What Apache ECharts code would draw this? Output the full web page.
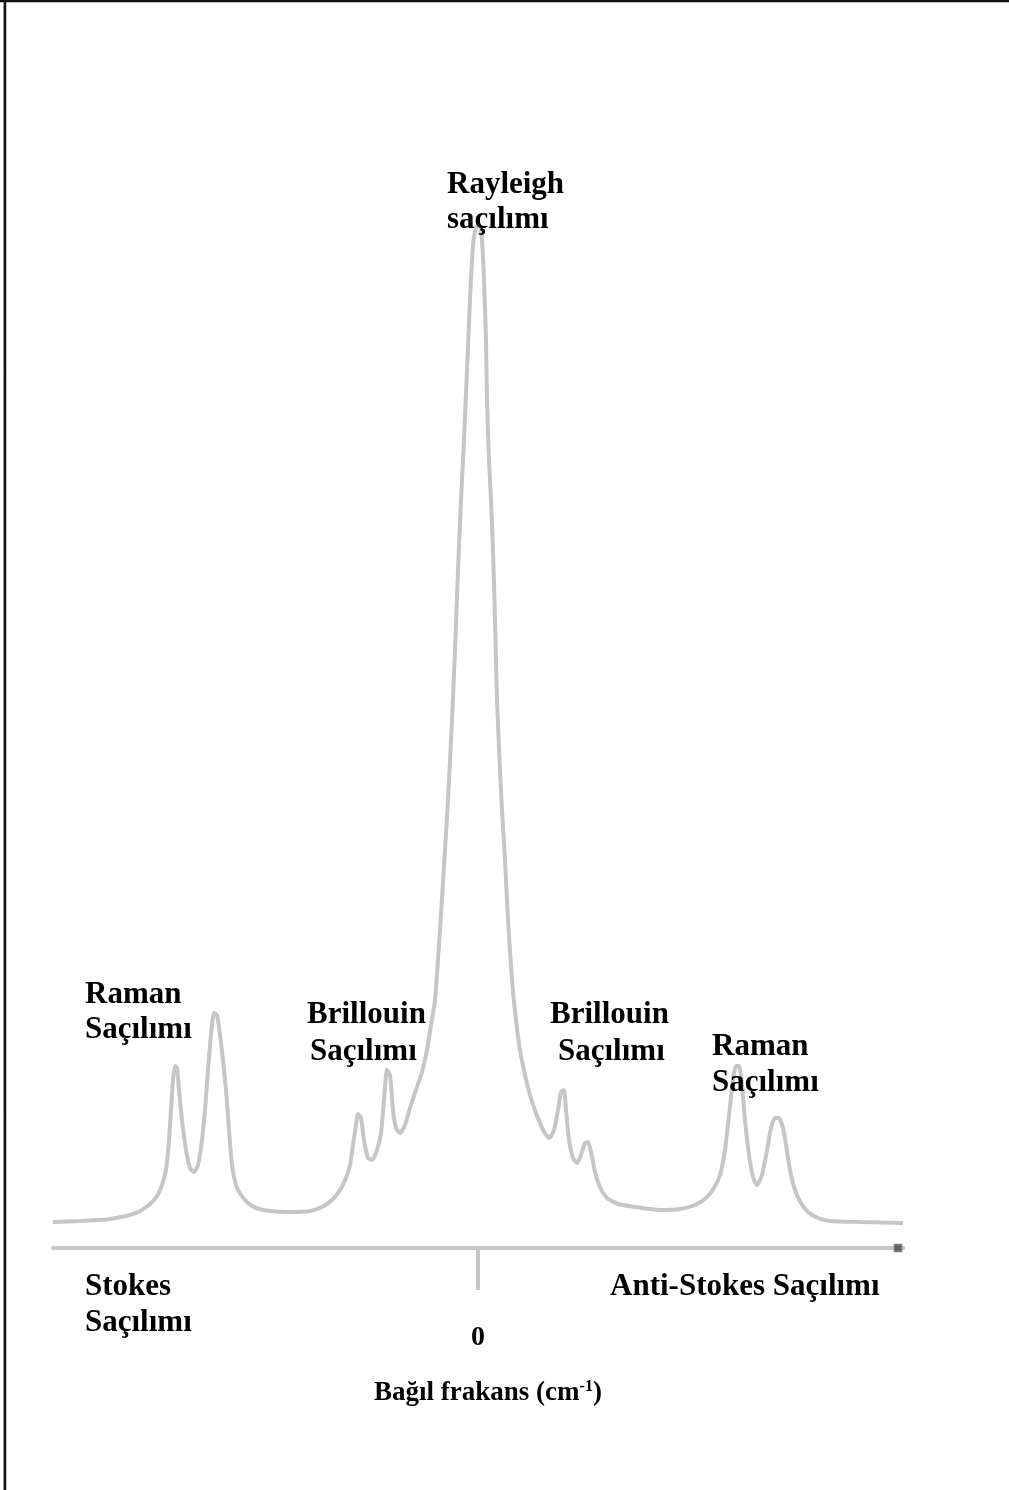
<!DOCTYPE html>
<html>
<head>
<meta charset="utf-8">
<script src="https://cdn.jsdelivr.net/npm/echarts@6/dist/echarts.min.js"></script>
<style>
  html, body { margin: 0; padding: 0; background: #fff; }
  #chart { width: 1009px; height: 1490px; }
</style>
</head>
<body>
<div id="chart"></div>
<script>
// Relative frequency shift (arbitrary units, 0 = Rayleigh line)
const shift = [
  -425, -398, -368, -348, -338, -328, -321, -316, -312, -309, -307, -305, -303, -301, -299, -296,
  -292, -288, -284, -280, -276, -273, -270, -267, -264, -261, -258, -255, -252, -249, -246, -242,
  -237, -230, -222, -208, -188, -168, -156, -146, -138, -132, -128, -125, -122, -120, -117, -114,
  -110, -106, -101, -97, -94, -91, -88, -85, -82, -78, -73, -68, -62, -56, -51, -47,
  -43, -38, -33, -30, -26, -23, -20, -17, -14, -11, -8, -6, -4, -1, 2, 4,
  6, 8, 9, 11, 13, 15, 17, 19, 22, 24, 27, 30, 34, 38, 42, 47,
  52, 58, 65, 71, 76, 80, 83, 86, 88, 91, 95, 99, 103, 107, 110, 113,
  117, 122, 129, 140, 157, 182, 202, 217, 228, 236, 242, 247, 251, 255, 258, 261,
  264, 267, 271, 275, 279, 284, 289, 293, 297, 301, 305, 308, 312, 317, 323, 330,
  340, 352, 382, 425
];

// Scattered intensity (arbitrary units)
const intensity = [
  2.6, 2.7, 2.9, 3.3, 3.7, 4.4, 5.2, 6.3, 7.8, 10.8, 13.8, 16.8, 18.2, 18.0, 15.8, 12.8,
  9.8, 8.0, 7.6, 8.3, 10.8, 13.8, 17.8, 21.3, 23.5, 23.3, 21.3, 18.8, 15.8, 11.8, 8.3, 6.3,
  5.3, 4.5, 4.0, 3.7, 3.6, 3.7, 4.1, 4.8, 5.8, 7.0, 8.3, 10.3, 12.3, 13.4, 13.0, 10.8,
  9.0, 8.8, 9.8, 11.5, 14.8, 17.8, 17.3, 13.8, 12.0, 11.5, 12.3, 14.0, 15.8, 17.6, 19.8, 22.3,
  24.8, 31.8, 39.8, 44.8, 52.8, 59.8, 67.8, 74.8, 80.8, 87.8, 94.8, 98.8, 101.1, 102.2, 102.2, 100.8,
  96.8, 90.8, 84.8, 78.8, 74.8, 69.8, 62.8, 54.8, 47.8, 43.8, 38.8, 32.8, 26.8, 22.8, 19.8, 17.3,
  15.3, 13.5, 11.8, 11.0, 11.8, 13.8, 15.6, 15.8, 13.8, 10.8, 9.0, 8.5, 9.3, 10.5, 10.6, 9.6,
  7.6, 6.1, 5.0, 4.4, 4.1, 3.8, 3.9, 4.3, 5.0, 6.0, 7.3, 9.8, 13.3, 16.8, 18.2, 18.2,
  16.3, 12.8, 9.3, 7.1, 6.3, 7.3, 9.8, 12.0, 13.0, 13.0, 12.0, 10.3, 7.8, 5.8, 4.5, 3.6,
  3.0, 2.7, 2.6, 2.5
];

// Marker at the end of the frequency axis
const axisEnd = [[420, 0]];

// Axis tick labels
const tickValues = [0];
const tickLabels = ['0'];

const SERIF = '"Liberation Serif", "Times New Roman", serif';
const CURVE_GREY = '#c6c6c6';

// Peak annotations: [text, left x, baseline y]
const annotations = [
  ['Rayleigh', 447, 195],
  ['saçılımı', 447, 230],
  ['Raman', 85, 1005],
  ['Saçılımı', 85, 1040],
  ['Brillouin', 307, 1025],
  ['Saçılımı', 310, 1062],
  ['Brillouin', 550, 1025],
  ['Saçılımı', 558, 1062],
  ['Raman', 712, 1057],
  ['Saçılımı', 712, 1093],
  ['Stokes', 85, 1297],
  ['Saçılımı', 85, 1333],
  ['Anti-Stokes Saçılımı', 610, 1297]
];

const LABEL_SIZE = 31;

function textEl(t, x, baseline, size) {
  return {
    type: 'text',
    x: x,
    y: baseline - Math.round(size * 0.33),
    z: 10,
    style: {
      text: t,
      font: 'bold ' + size + 'px ' + SERIF,
      fill: '#000',
      align: 'left',
      verticalAlign: 'middle'
    }
  };
}

const chart = echarts.init(document.getElementById('chart'), null, { renderer: 'canvas' });

chart.setOption({
  backgroundColor: '#fff',
  animation: false,
  grid: { left: 53, right: 106, top: 148, bottom: 242 },
  xAxis: {
    type: 'value',
    min: -425,
    max: 425,
    splitLine: { show: false },
    axisLine: { show: true, lineStyle: { color: CURVE_GREY, width: 4 } },
    axisTick: {
      show: true,
      customValues: tickValues,
      length: 42,
      lineStyle: { color: CURVE_GREY, width: 4 }
    },
    axisLabel: {
      show: true,
      customValues: tickValues,
      formatter: (v) => tickLabels[tickValues.indexOf(v)] ?? '',
      margin: 76,
      color: '#000',
      fontFamily: SERIF,
      fontWeight: 'bold',
      fontSize: 28
    },
    name: '{a|Bağıl frakans (cm}{s|-1}{a|)}',
    nameLocation: 'middle',
    nameGap: 131,
    nameTextStyle: {
      padding: [0, 0, 0, 20],
      rich: {
        a: { fontFamily: SERIF, fontWeight: 'bold', fontSize: 27, color: '#000' },
        s: { fontFamily: SERIF, fontWeight: 'bold', fontSize: 16, color: '#000', verticalAlign: 'top', padding: [0, 0, 12, 0] }
      }
    }
  },
  yAxis: {
    type: 'value',
    min: 0,
    max: 110,
    show: false
  },
  series: [
    {
      type: 'line',
      data: shift.map((x, i) => [x, intensity[i]]),
      symbol: 'none',
      smooth: 0.2,
      lineStyle: { color: CURVE_GREY, width: 4 },
      z: 3
    },
    {
      type: 'scatter',
      data: axisEnd,
      symbol: 'rect',
      symbolSize: 8,
      itemStyle: { color: '#444', borderColor: '#999', borderWidth: 1 },
      z: 4
    }
  ],
  graphic: [
    // frame along the left and top edges
    { type: 'line', shape: { x1: 5, y1: 0, x2: 5, y2: 1490 }, style: { stroke: '#111', lineWidth: 2.5 } },
    { type: 'line', shape: { x1: 3.5, y1: 0, x2: 3.5, y2: 1490 }, style: { stroke: '#999', lineWidth: 1 } },
    { type: 'line', shape: { x1: 0, y1: 1, x2: 1009, y2: 1 }, style: { stroke: '#111', lineWidth: 2.5 } }
  ].concat(annotations.map(a => textEl(a[0], a[1], a[2], LABEL_SIZE)))
});
</script>
</body>
</html>
